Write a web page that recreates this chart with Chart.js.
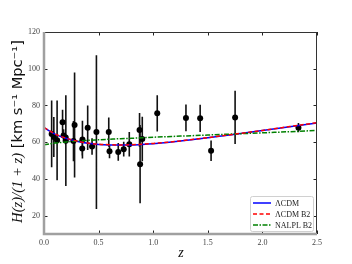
<!DOCTYPE html>
<html><head><meta charset="utf-8">
<script src="https://cdn.jsdelivr.net/npm/chart.js@4"></script>
<style>html,body{margin:0;padding:0;background:#fff}#wrap{width:352px;height:264px}</style>
</head><body><div id="wrap"><canvas id="c" width="352" height="264"></canvas></div>
<script>
// Observational data: H(z)/(1+z)
const zObs = [0.07,0.09,0.12,0.17,0.179,0.199,0.2,0.27,0.28,0.35,0.352,0.4,0.44,0.48,0.593,0.6,0.68,0.73,0.781,0.875,0.88,0.9,1.037,1.3,1.43,1.53,1.75,2.33];
const hObs = [64.5,62.8,61.0,70.9,63.6,62.6,60.8,60.6,69.4,56.6,61.4,67.9,57.6,65.5,65.5,55.0,54.7,56.2,58.9,66.7,48.0,61.7,75.7,73.2,73.0,55.3,73.5,67.9];
const eObs = [18.2,10.9,21.7,6.8,3.4,4.2,24.7,11.0,28.6,3.8,10.3,12.1,4.5,41.9,8.0,3.8,4.8,4.0,6.7,9.2,21.3,12.1,9.9,7.3,7.4,5.6,14.5,2.5];
// Model curves
const zModel = [0,0.1,0.2,0.3,0.4,0.5,0.6,0.7,0.8,0.9,1.0,1.25,1.5,1.75,2.0,2.25,2.5];
const lcdm   = [67.9,64.4,62.1,60.5,59.4,58.8,58.5,58.4,58.5,58.8,59.2,60.6,62.4,64.3,66.3,68.4,70.5];
const lcdmB2 = [68.0,64.5,62.2,60.6,59.5,58.9,58.6,58.5,58.6,58.9,59.3,60.7,62.5,64.4,66.4,68.5,70.6];
const nalpl  = [58.6,59.5,60.1,60.6,61.0,61.3,61.6,61.9,62.1,62.4,62.7,63.3,63.9,64.5,65.1,65.7,66.4];
const xTicks = [0,0.5,1.0,1.5,2.0,2.5];
const yTicks = [20,40,60,80,100,120];
const legendLabels = ['ΛCDM','ΛCDM B2','NALPL B2'];

const pts = (xs, ys) => xs.map((x,i)=>({x:x,y:ys[i]}));
const errPts = zObs.flatMap((z,i)=>[{x:z,y:hObs[i]-eObs[i]},{x:z,y:hObs[i]+eObs[i]},{x:z,y:null}]);

const serif = "'Liberation Serif','DejaVu Serif',serif";
const sans = "'DejaVu Sans','Liberation Sans',sans-serif";

const deco = {
  id:'deco',
  afterDraw(chart){
    const ctx = chart.ctx, a = chart.chartArea, xs = chart.scales.x, ys = chart.scales.y;
    ctx.save();
    // ticks inward
    ctx.strokeStyle = '#222'; ctx.lineWidth = 1;
    const L = 3.5;
    xTicks.forEach(v=>{
      const px = Math.round(xs.getPixelForValue(v))+0.5;
      ctx.beginPath(); ctx.moveTo(px,a.bottom); ctx.lineTo(px,a.bottom-L);
      ctx.moveTo(px,a.top); ctx.lineTo(px,a.top+L); ctx.stroke();
    });
    yTicks.forEach(v=>{
      const py = Math.round(ys.getPixelForValue(v))+0.5;
      ctx.beginPath(); ctx.moveTo(a.left,py); ctx.lineTo(a.left+L,py);
      ctx.moveTo(a.right,py); ctx.lineTo(a.right-L,py); ctx.stroke();
    });
    // spines
    ctx.strokeStyle = '#333'; ctx.lineWidth = 1;
    ctx.beginPath(); ctx.moveTo(a.left,a.top+0.5); ctx.lineTo(a.right,a.top+0.5);
    ctx.moveTo(a.right-0.5,a.top); ctx.lineTo(a.right-0.5,a.bottom); ctx.stroke();
    ctx.strokeStyle = '#a0a0a0'; ctx.lineWidth = 2.5;
    ctx.beginPath(); ctx.moveTo(a.left,a.top); ctx.lineTo(a.left,a.bottom);
    ctx.lineTo(a.right,a.bottom); ctx.stroke();

    // legend
    const bx=250, by=196, bw=63, bh=35;
    ctx.fillStyle='rgba(255,255,255,0.9)'; ctx.strokeStyle='#d0d0d0'; ctx.lineWidth=1;
    ctx.beginPath(); ctx.roundRect(bx+0.5,by+0.5,bw,bh,2); ctx.fill(); ctx.stroke();
    const styles = [['#0000ff',[]],['#ff0000',[4,2.5]],['#008000',[5,1.5,1.5,1.5]]];
    ctx.font = '8px '+serif; ctx.textBaseline='middle'; ctx.textAlign='left';
    styles.forEach((s,i)=>{
      const yy = by+7+i*11;
      ctx.strokeStyle=s[0]; ctx.setLineDash(s[1]); ctx.lineWidth=1.5;
      ctx.beginPath(); ctx.moveTo(bx+3,yy); ctx.lineTo(bx+21,yy); ctx.stroke();
      ctx.setLineDash([]);
      ctx.fillStyle='#222'; ctx.fillText(legendLabels[i], bx+25, yy+0.5);
    });

    // x title
    ctx.fillStyle='#111'; ctx.font='italic 14px '+serif; ctx.textAlign='center'; ctx.textBaseline='middle';
    ctx.fillText('z', 181, 253);

    // y title
    const p1 = 'H(z)/(1 + z)', p2 = ' [km s⁻¹ Mpc⁻¹]';
    let fs = 15;
    ctx.font = 'italic '+fs+'px '+serif; let w1 = ctx.measureText(p1).width;
    ctx.font = fs+'px '+sans; let w2 = ctx.measureText(p2).width;
    const k = 183/(w1+w2); fs = fs*k;
    ctx.font = 'italic '+fs+'px '+serif; w1 = ctx.measureText(p1).width;
    ctx.font = fs+'px '+sans; w2 = ctx.measureText(p2).width;
    ctx.translate(18, 131.5); ctx.rotate(-Math.PI/2);
    ctx.textAlign='left'; ctx.textBaseline='middle';
    const start = -(w1+w2)/2;
    ctx.font = 'italic '+fs+'px '+serif; ctx.fillText(p1, start, 0);
    ctx.font = fs+'px '+sans; ctx.fillText(p2, start+w1, 0);
    ctx.restore();
  }
};

new Chart(document.getElementById('c'), {
  type:'scatter',
  data:{datasets:[
    {label:'ΛCDM', data:pts(zModel,lcdm), showLine:true, borderColor:'#0000ff', borderWidth:1.5, pointRadius:0, cubicInterpolationMode:'monotone', order:1},
    {label:'ΛCDM B2', data:pts(zModel,lcdmB2), showLine:true, borderColor:'#ff0000', borderDash:[4,2.5], borderWidth:1.5, pointRadius:0, cubicInterpolationMode:'monotone', order:0},
    {label:'NALPL B2', data:pts(zModel,nalpl), showLine:true, borderColor:'#008000', borderDash:[5,1.5,1.5,1.5], borderWidth:1.5, pointRadius:0, cubicInterpolationMode:'monotone', order:0},
    {label:'err', data:errPts, showLine:true, spanGaps:false, borderColor:'#111', borderWidth:1.6, pointRadius:0, order:3},
    {label:'data', data:pts(zObs,hObs), showLine:false, pointRadius:3, pointBackgroundColor:'#000', pointBorderColor:'#000', pointBorderWidth:0, order:2}
  ]},
  options:{
    responsive:false, animation:false, devicePixelRatio:1,
    layout:{padding:{top:32,right:35,left:0,bottom:0}},
    plugins:{legend:{display:false}, tooltip:{enabled:false}},
    scales:{
      x:{type:'linear', min:0, max:2.5,
         grid:{display:false, drawTicks:false}, border:{display:false},
         afterBuildTicks:s=>{s.ticks = xTicks.map(v=>({value:v}));},
         afterFit:s=>{s.height=30;},
         ticks:{padding:4, color:'#444', font:{family:serif,size:8}, callback:v=>Number(v).toFixed(1), maxRotation:0, autoSkip:false}},
      y:{type:'linear', min:10, max:120,
         grid:{display:false, drawTicks:false}, border:{display:false},
         afterBuildTicks:s=>{s.ticks = yTicks.map(v=>({value:v}));},
         afterFit:s=>{s.width=44;},
         ticks:{padding:4, color:'#444', font:{family:serif,size:8}, autoSkip:false}}
    }
  },
  plugins:[deco]
});
</script></body></html>
